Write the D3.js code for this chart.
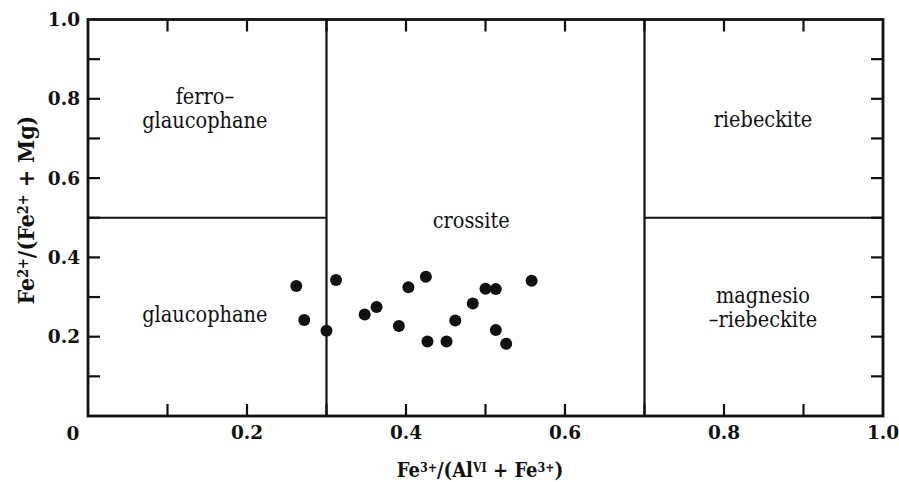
<!DOCTYPE html>
<html lang="en">
<head>
<meta charset="UTF-8">
<title>Fe3+/(AlVI+Fe3+) vs Fe2+/(Fe2+ + Mg)</title>
<style>
  body { margin: 0; background: #fff; }
  svg { display: block; }
  text { font-family: "DejaVu Serif", "Liberation Serif", serif; fill: #111; }
  .tick-label { font-weight: bold; font-size: 18.5px; }
  .field { font-size: 21.5px; font-stretch: condensed; }
  .axis-title { font-weight: bold; font-size: 20px; font-stretch: condensed; }
</style>
</head>
<body>
<svg></svg>
<script src="https://d3js.org/d3.v7.min.js"></script>
<script>
// Data

const fe3Ratio = [0.262, 0.272, 0.312, 0.300, 0.348, 0.363, 0.391, 0.403, 0.425,
                  0.427, 0.451, 0.462, 0.484, 0.500, 0.513, 0.513, 0.526, 0.558];
const fe2Ratio = [0.328, 0.242, 0.343, 0.215, 0.256, 0.275, 0.227, 0.325, 0.351,
                  0.188, 0.188, 0.241, 0.284, 0.321, 0.320, 0.217, 0.182, 0.341];

const majorTicks = [0.2, 0.4, 0.6, 0.8, 1.0];
const minorTicks = [0.1, 0.2, 0.3, 0.4, 0.5, 0.6, 0.7, 0.8, 0.9];

// Field boundaries (x splits, y split on the outer fields)
const splitX = [0.3, 0.7];
const splitY = 0.5;

const fieldNames = [["ferro–", "glaucophane"], ["glaucophane"], ["crossite"], ["riebeckite"], ["magnesio", "–riebeckite"]];
const fieldX = [0.147, 0.147, 0.482, 0.849, 0.849];
const fieldY = [0.787, 0.237, 0.474, 0.729, 0.285];

// Layout

const width = 899;
const height = 482;

const x = d3.scaleLinear().domain([0, 1]).range([88, 883]);
const y = d3.scaleLinear().domain([0, 1]).range([416, 19.5]);

const svg = d3.select("svg").attr("width", width).attr("height", height);

// Ticks on all four sides, pointing inward

const tickLen = 12;
const ticks = svg.append("g").attr("stroke", "#111").attr("stroke-width", 2.2);

ticks.selectAll(".tb").data(minorTicks).join("line")
  .attr("x1", d => x(d)).attr("x2", d => x(d))
  .attr("y1", y(0)).attr("y2", y(0) - tickLen);
ticks.selectAll(".tt").data(minorTicks).join("line")
  .attr("x1", d => x(d)).attr("x2", d => x(d))
  .attr("y1", y(1)).attr("y2", y(1) + tickLen);
ticks.selectAll(".tl").data(minorTicks).join("line")
  .attr("x1", x(0)).attr("x2", x(0) + tickLen)
  .attr("y1", d => y(d)).attr("y2", d => y(d));
ticks.selectAll(".tr").data(minorTicks).join("line")
  .attr("x1", x(1)).attr("x2", x(1) - tickLen)
  .attr("y1", d => y(d)).attr("y2", d => y(d));

// Frame

svg.append("rect")
  .attr("x", x(0)).attr("y", y(1))
  .attr("width", x(1) - x(0)).attr("height", y(0) - y(1))
  .attr("fill", "none").attr("stroke", "#111").attr("stroke-width", 2.8);

// Field boundaries

const bounds = svg.append("g").attr("stroke", "#111").attr("stroke-width", 2.2);
splitX.forEach(s => {
  bounds.append("line")
    .attr("x1", x(s)).attr("x2", x(s))
    .attr("y1", y(0)).attr("y2", y(1));
});
bounds.append("line")
  .attr("x1", x(0)).attr("x2", x(splitX[0]))
  .attr("y1", y(splitY)).attr("y2", y(splitY));
bounds.append("line")
  .attr("x1", x(splitX[1])).attr("x2", x(1))
  .attr("y1", y(splitY)).attr("y2", y(splitY));

// Tick labels

svg.append("g").selectAll("text")
  .data(majorTicks).join("text")
    .attr("class", "tick-label")
    .attr("x", d => x(d))
    .attr("y", y(0) + 23)
    .attr("text-anchor", "middle")
    .text(d => d.toFixed(1));

svg.append("g").selectAll("text")
  .data(majorTicks).join("text")
    .attr("class", "tick-label")
    .attr("x", x(0) - 8)
    .attr("y", d => y(d))
    .attr("dy", "0.36em")
    .attr("text-anchor", "end")
    .text(d => d.toFixed(1));

svg.append("text")
  .attr("class", "tick-label")
  .attr("x", x(0) - 15)
  .attr("y", y(0) + 24)
  .attr("text-anchor", "middle")
  .text("0");

// Field labels

fieldNames.forEach((lines, i) => {
  const t = svg.append("text")
    .attr("class", "field")
    .attr("text-anchor", "middle")
    .attr("x", x(fieldX[i]))
    .attr("y", y(fieldY[i]));
  lines.forEach((line, j) => {
    t.append("tspan")
      .attr("x", x(fieldX[i]))
      .attr("dy", j === 0 ? 0 : 24)
      .text(line);
  });
});

// Points

svg.append("g").selectAll("circle")
  .data(fe3Ratio).join("circle")
    .attr("cx", d => x(d))
    .attr("cy", (d, i) => y(fe2Ratio[i]))
    .attr("r", 6)
    .attr("fill", "#111");

// Axis titles with superscripts

function richTitle(sel, parts) {
  parts.forEach(p => {
    const s = sel.append("tspan").text(p.t);
    if (p.sup) {
      s.attr("font-size", "0.62em").attr("baseline-shift", "45%");
    }
  });
}

const xTitle = svg.append("text")
  .attr("class", "axis-title")
  .attr("x", 480)
  .attr("y", 477)
  .attr("text-anchor", "middle");
richTitle(xTitle, [
  { t: "Fe" }, { t: "3+", sup: true }, { t: "/(Al" }, { t: "VI", sup: true },
  { t: " + Fe" }, { t: "3+", sup: true }, { t: ")" }
]);

const yTitle = svg.append("text")
  .attr("class", "axis-title")
  .attr("transform", "translate(34," + 210 + ") rotate(-90)")
  .attr("text-anchor", "middle")
  .style("font-size", "23px");
richTitle(yTitle, [
  { t: "Fe" }, { t: "2+", sup: true }, { t: "/(Fe" }, { t: "2+", sup: true },
  { t: " + Mg)" }
]);
</script>
</body>
</html>
